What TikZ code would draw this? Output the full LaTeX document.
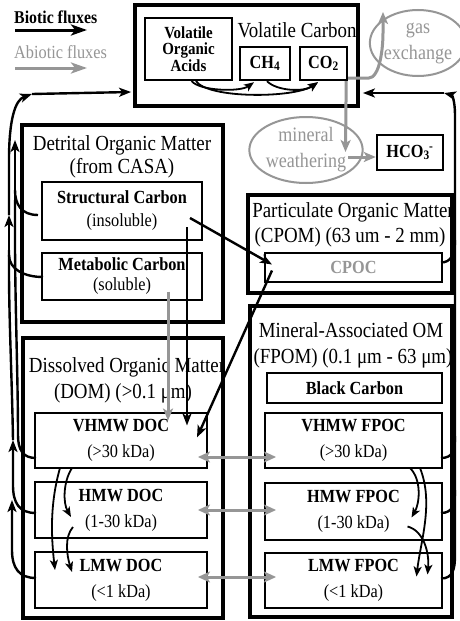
\documentclass[tikz,border=0pt]{standalone}
\usepackage{fontspec}
\setmainfont{Liberation Serif}[FakeStretch=0.88]
\usetikzlibrary{arrows.meta,calc,shapes.geometric}
\definecolor{gr}{RGB}{150,150,150}
\begin{document}
\begin{tikzpicture}[x=1pt,y=-1pt,
 outerbox/.style={draw,line width=3.8pt,inner sep=0pt},
 inbox/.style={draw,line width=2pt,inner sep=0pt,align=center,font=\fontsize{18.5}{22}\selectfont},
 ttl/.style={inner sep=0pt,font=\fontsize{21.5}{23}\selectfont},
 bio/.style={draw=black,line width=2.4pt},
 bioarr/.style={bio,-{Stealth[length=12pt,width=9pt,inset=3pt]}},
 bioth/.style={draw=black,line width=1.8pt,-{Stealth[length=10pt,width=8pt,inset=2.5pt]}},
 abio/.style={draw=gr,line width=3pt},
 abioarr/.style={abio,-{Stealth[length=12pt,width=10pt,inset=3pt]}},
 abiodbl/.style={abio,{Stealth[length=12pt,width=11pt,inset=3pt]}-{Stealth[length=12pt,width=11pt,inset=3pt]}},
 oval/.style={ellipse,draw=gr,line width=2pt,inner sep=0pt,align=center,text=gr,font=\fontsize{20.5}{26}\selectfont},
]
\useasboundingbox[fill=white] (0,0) rectangle (460,621);

% legend
\node[anchor=west,inner sep=0pt,font=\bfseries\fontsize{18}{18}\selectfont] (lbio) at (14,17) {Biotic fluxes};
\coordinate (lb1) at (15,30); \coordinate (lb2) at (87,30);
\draw[bio,line width=3pt,-{Stealth[length=16pt,width=11pt,inset=4pt]}] (lb1) -- (lb2);
\node[anchor=west,inner sep=0pt,text=gr,font=\fontsize{18.5}{18}\selectfont] (labio) at (14,52) {Abiotic fluxes};
\coordinate (la1) at (15,68); \coordinate (la2) at (87,68);
\draw[abio,line width=3pt,-{Stealth[length=16pt,width=11pt,inset=4pt]}] (la1) -- (la2);

% volatile carbon
\node[outerbox,minimum width=223pt,minimum height=101pt] (vc) at (246.5,55.5) {};
\node[ttl] (vct) at (297,30) {Volatile Carbon};
\node[inbox,minimum width=87pt,minimum height=62pt,font=\bfseries\fontsize{17}{16.5}\selectfont] (voa) at (188.5,49) {Volatile\\Organic\\Acids};
\node[inbox,line width=2.4pt,minimum width=50pt,minimum height=33pt,font=\bfseries\fontsize{18.5}{18}\selectfont] (ch4) at (265,63.5) {CH\textsubscript{4}};
\node[inbox,line width=2.4pt,minimum width=47pt,minimum height=33pt,font=\bfseries\fontsize{18.5}{18}\selectfont] (co2) at (323.5,63.5) {CO\textsubscript{2}};

\node[oval,minimum width=88pt,minimum height=66pt] (gas) at (418,43) {gas\\exchange};
\node[oval,minimum width=112pt,minimum height=66pt] (mw) at (306,150) {mineral\\weathering};
\node[inbox,line width=2.4pt,minimum width=66pt,minimum height=35pt,font=\bfseries\fontsize{18.5}{18}\selectfont] (hco) at (410,152.5) {HCO\textsubscript{3}\kern-0.5pt\textsuperscript{-}};

% detrital
\node[outerbox,minimum width=201pt,minimum height=197pt] (det) at (122.5,223.5) {};
\node[ttl] (dett1) at (122,145) {Detrital Organic Matter};
\node[ttl] (dett2) at (122,168) {(from CASA)};
\node[inbox,minimum width=160pt,minimum height=58pt,font=\fontsize{18.5}{23}\selectfont] (strc) at (122,211) {\textbf{Structural Carbon}\\(insoluble)};
\node[inbox,minimum width=160pt,minimum height=47pt,font=\fontsize{18.5}{20}\selectfont] (metc) at (122,276.5) {\textbf{Metabolic Carbon}\\(soluble)};

% POM
\node[outerbox,minimum width=204pt,minimum height=98pt] (pom) at (350,244) {};
\node[ttl] (pomt1) at (353,212) {Particulate Organic Matter};
\node[ttl] (pomt2) at (350,237) {(CPOM) (63 um - 2 mm)};
\node[inbox,minimum width=177pt,minimum height=29pt,font=\bfseries\fontsize{18.5}{18}\selectfont,text=gr] (cpoc) at (353.5,267.5) {CPOC};

% MAOM
\node[outerbox,minimum width=202pt,minimum height=311pt] (maom) at (351,461.5) {};
\node[ttl] (mat1) at (351,330) {Mineral-Associated OM};
\node[ttl] (mat2) at (353,358) {(FPOM) (0.1 μm - 63 μm)};
\node[inbox,minimum width=175pt,minimum height=30pt,font=\bfseries\fontsize{18.5}{18}\selectfont] (bc) at (354.5,388) {Black Carbon};
\node[inbox,minimum width=177pt,minimum height=55pt,font=\fontsize{18.5}{26}\selectfont] (vfpoc) at (353.5,440.5) {\textbf{VHMW FPOC}\\(>30 kDa)};
\node[inbox,minimum width=177pt,minimum height=57pt,font=\fontsize{18.5}{26}\selectfont] (hfpoc) at (353.5,511.5) {\textbf{HMW FPOC}\\(1-30 kDa)};
\node[inbox,minimum width=177pt,minimum height=55pt,font=\fontsize{18.5}{26}\selectfont] (lfpoc) at (353.5,580.5) {\textbf{LMW FPOC}\\(<1 kDa)};

% DOM
\node[outerbox,minimum width=200pt,minimum height=280pt] (dom) at (123,478) {};
\node[ttl] (domt1) at (127,367) {Dissolved Organic Matter};
\node[ttl] (domt2) at (123,393) {(DOM) (>0.1 μm)};
\node[inbox,minimum width=172pt,minimum height=55pt,font=\fontsize{18.5}{26}\selectfont] (vdoc) at (121,440.5) {\textbf{VHMW DOC}\\(>30 kDa)};
\node[inbox,minimum width=172pt,minimum height=56pt,font=\fontsize{18.5}{26}\selectfont] (hdoc) at (121,510) {\textbf{HMW DOC}\\(1-30 kDa)};
\node[inbox,minimum width=172pt,minimum height=56pt,font=\fontsize{18.5}{26}\selectfont] (ldoc) at (121,580) {\textbf{LMW DOC}\\(<1 kDa)};

% volatile internal fluxes
\draw[bioth] ($(voa.south)+(3,0)$) .. controls +(8,10) and +(-14,10) .. ($(ch4.south)+(-11,1)$);
\draw[bioth] ($(voa.south)+(7.5,0)$) .. controls +(12,18) and +(-24,16) .. ($(co2.south)+(-5.5,1)$);
\draw[bioth] ($(ch4.south)+(2,0)$) .. controls +(10,10) and +(-14,10) .. ($(co2.south)+(-5.5,1)$);

% abiotic around CO2
\draw[abioarr] ($(co2.south east)+(0,-3)$) -- ++(20,0) .. controls +(12,0) and +(0,14) .. ($(gas.north)+(-35,24)$) -- ($(gas.north)+(-35,3)$);
\draw[abioarr] ($(co2.south east)+(-2,0)$) -- ($(mw.center)+(39.5,2)$);
\draw[abioarr] ($(mw.center)+(42,7)$) -- ($(hco.west)+(0,4.5)$);

% detrital to pools
\draw[bioarr] ($(strc.center)+(68,7)$) -- ($(cpoc.west)+(8,-3)$);
\draw[bioarr] ($(strc.center)+(65,16)$) -- ($(vdoc.center)+(66,-15)$);
\draw[abioarr] ($(metc.center)+(46,15)$) -- ($(vdoc.center)+(47,-20)$);
\draw[bioarr] ($(cpoc.west)+(8,3)$) -- ($(vdoc.center)+(76,-3)$);

% sorption exchanges
\draw[abiodbl] ($(vdoc.east)+(-10,16.5)$) -- ($(vfpoc.west)+(12,16.5)$);
\draw[abiodbl] ($(hdoc.east)+(-10,0)$) -- ($(hfpoc.west)+(12,-1.5)$);
\draw[abiodbl] ($(ldoc.east)+(-10,-3)$) -- ($(lfpoc.west)+(12,-3.5)$);

% DOM internal
\draw[bioth] ($(vdoc.south)+(-49,-1)$) .. controls +(-9,14) and +(-8,-14) .. ($(hdoc.center)+(-50,7)$);
\draw[bioth] ($(vdoc.south)+(-61,-1)$) .. controls +(-10,35) and +(-4,-35) .. ($(ldoc.center)+(-66,-10)$);
\draw[bioth] ($(hdoc.center)+(-48,17)$) .. controls +(-9,10) and +(-5,-16) .. ($(ldoc.center)+(-49,-8)$);

% FPOM internal
\draw[bioth] ($(vfpoc.south)+(56.5,-1)$) .. controls +(12,12) and +(8,-14) .. ($(hfpoc.center)+(58,6)$);
\draw[bioth] ($(vfpoc.south)+(66.5,-1)$) .. controls +(14,35) and +(4,-35) .. ($(lfpoc.center)+(63,-4)$);
\draw[bioth] ($(hfpoc.center)+(54,15)$) .. controls +(16,4) and +(2,-22) .. ($(lfpoc.center)+(74,-6)$);

% right respiration trunk
\coordinate (rc) at (444,93);
\draw[bioarr] ($(lfpoc.east)+(-2,-2)$) .. controls +(12,0) and +(0,14) .. (455,555) -- (455,115) .. controls (455,101) and (452,95) .. (rc);
\draw[bio] ($(hfpoc.east)+(-2,1.5)$) .. controls +(12,0) and +(0,14) .. (455,490);
\draw[bio] ($(vfpoc.east)+(-2,17.5)$) .. controls +(12,0) and +(0,14) .. (455,436);
\draw[bio] ($(cpoc.east)+(-2,-5)$) .. controls +(10,0) and +(0,14) .. (455,240);
\draw[bioarr] (rc) -- ($(vc.east)+(3,37.5)$);

% left respiration trunk
\coordinate (lc) at (32,94);
\coordinate (lm) at (9,215);
\coordinate (ls) at (15,140);
\draw[bioarr] ($(ldoc.west)+(2,-2)$) .. controls +(-17,0) and +(0,18) .. (12,550) -- (12,500);
\draw[bioarr] ($(hdoc.west)+(2,3)$) .. controls +(-17,0) and +(0,18) .. (13,485) -- (13,440);
\draw[bio] (13,440) .. controls (12,380) and (9,320) .. (9,270) -- (9,250);
\draw[bioarr] (9,250) -- (lm);
\draw[bio] ($(metc.west)+(2,0.5)$) .. controls +(-19,0) and +(0,14) .. (9,255);
\draw[bio] ($(vdoc.west)+(2,17.5)$) .. controls +(-13,0) and +(0,15) .. (18,435) .. controls (18,380) and (15,300) .. (15,240) -- (15,200);
\draw[bio] ($(strc.west)+(-3,4)$) .. controls +(-17,0) and +(0,14) .. (15,190);
\draw[bioarr] (15,200) -- (ls);
\draw[bioarr] (lm) -- (9,160) .. controls (9,120) and (15,100) .. (lc);
\draw[bioarr] (lc) -- ($(vc.west)+(-2,36.5)$);
\end{tikzpicture}
\end{document}
